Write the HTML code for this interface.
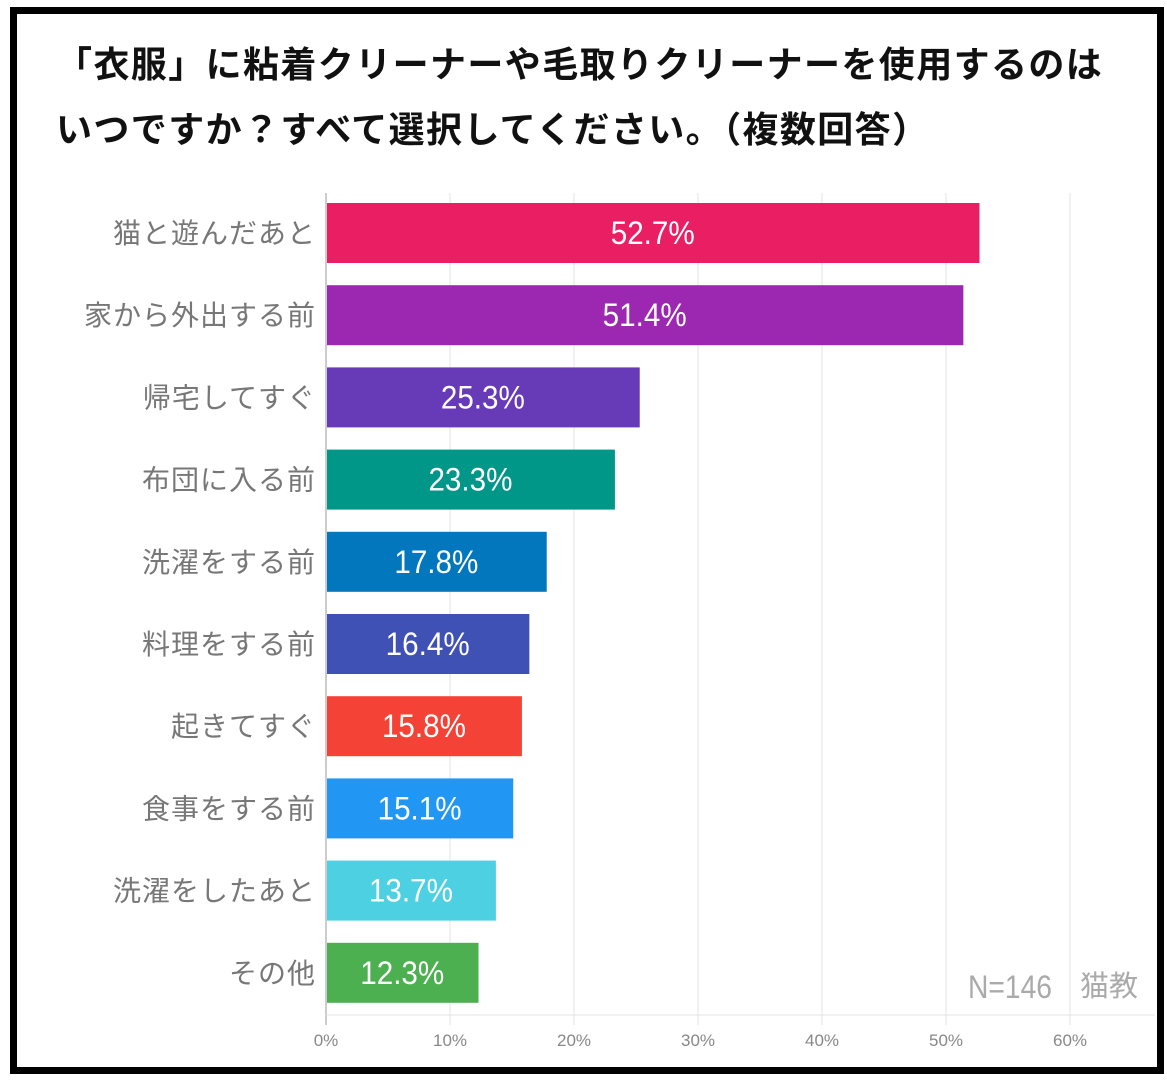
<!DOCTYPE html>
<html><head><meta charset="utf-8">
<style>
body{margin:0;width:1167px;height:1080px;background:#fff;overflow:hidden;font-family:"Liberation Sans","Noto Sans CJK JP",sans-serif;}
#frame{position:absolute;left:10px;top:7px;width:1140px;height:1053px;border:7px solid #000;}
.title{position:absolute;left:56px;font-size:36px;font-weight:bold;color:#111;white-space:nowrap;letter-spacing:1.4px;}
</style></head><body>
<div id="frame"></div>
<div class="title" style="top:36px">「衣服」に粘着クリーナーや毛取りクリーナーを使用するのは</div>
<div class="title" style="top:101px">いつですか？すべて選択してください。（複数回答）</div>
<svg id="chart" width="1167" height="1080" style="position:absolute;left:0;top:0"></svg>
<script>
const categories=["猫と遊んだあと","家から外出する前","帰宅してすぐ","布団に入る前","洗濯をする前","料理をする前","起きてすぐ","食事をする前","洗濯をしたあと","その他"];
const values=[52.7,51.4,25.3,23.3,17.8,16.4,15.8,15.1,13.7,12.3];
const valueLabels=["52.7%","51.4%","25.3%","23.3%","17.8%","16.4%","15.8%","15.1%","13.7%","12.3%"];
const ticks=[0,10,20,30,40,50,60];
const tickLabels=["0%","10%","20%","30%","40%","50%","60%"];
const colors=["#e91e63","#9c27b0","#673ab7","#009688","#0277bd","#3f51b5","#f44336","#2196f3","#4dd0e1","#4caf50"];
const NS="http://www.w3.org/2000/svg";
const svg=document.getElementById('chart');
const x0=326,pxPer=12.4,top0=193,step=82.2,barH=60,plotBottom=1015;
const xs=v=>x0+v*pxPer;
const yb=i=>top0+10+i*step;
function mk(t,a){const e=document.createElementNS(NS,t);for(const k in a)e.setAttribute(k,a[k]);svg.appendChild(e);return e;}
ticks.forEach((t,i)=>{
 const g=mk('line',{x1:xs(t),x2:xs(t),y1:top0,y2:plotBottom+10,stroke:i==0?'#bbb':'#e3e3e3','stroke-width':i==0?1.5:1});
 
 
 const l=mk('text',{x:xs(t),y:1046,'text-anchor':'middle','font-size':17,fill:'#888'});
 l.textContent=tickLabels[i];
 
 
});
const base=mk('line',{x1:x0,x2:1155,y1:plotBottom,y2:plotBottom,stroke:'#e3e3e3','stroke-width':1});


categories.forEach((c,i)=>{
 const y=yb(i);
 const r=mk('rect',{x:x0+1,y:y,width:xs(values[i])-x0-1,height:barH,fill:colors[i]});
 
 
 const cx=(x0+xs(values[i]))/2;
 const t=mk('text',{x:cx-42,y:y+barH/2+11,'font-size':32,fill:'#fff',textLength:84,lengthAdjust:'spacingAndGlyphs'});
 t.textContent=valueLabels[i];
 
 
 const l=mk('text',{x:316,y:y+barH/2+10,'text-anchor':'end','font-size':28,fill:'#777','letter-spacing':1});
 l.textContent=c;
 
 
});
const n=mk('text',{x:968,y:998,'font-size':32,fill:'#aaa',textLength:84,lengthAdjust:'spacingAndGlyphs'});
n.textContent='N=146';


const s=mk('text',{x:1080,y:996,'font-size':29,fill:'#aaa'});
s.textContent='猫教';


</script>
</body></html>
